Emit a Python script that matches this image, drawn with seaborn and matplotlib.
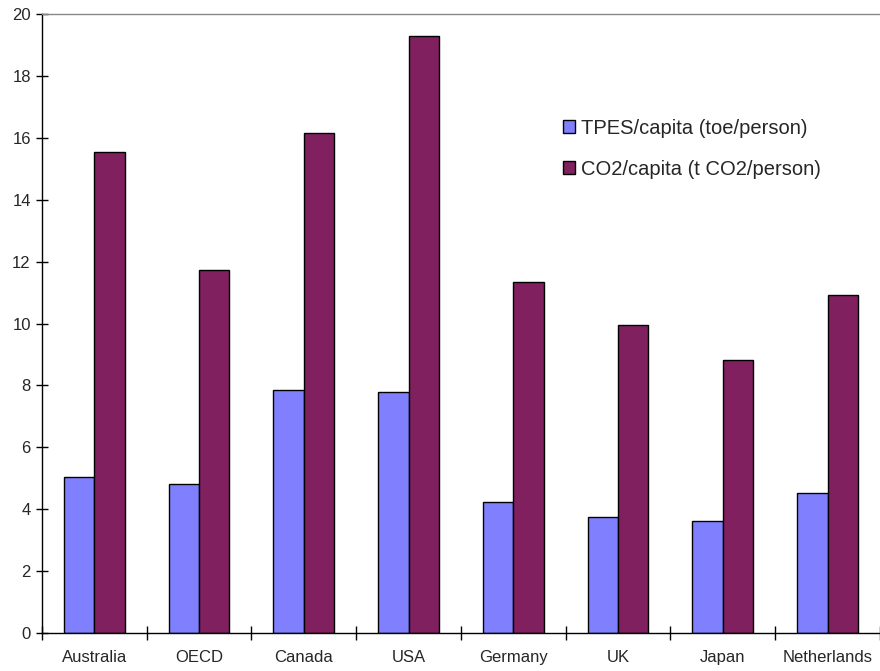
import numpy as np
import pandas as pd
import matplotlib.pyplot as plt
import seaborn as sns

# Data
countries = ["Australia", "OECD", "Canada", "USA", "Germany", "UK", "Japan", "Netherlands"]
tpes = [5.04, 4.81, 7.86, 7.78, 4.22, 3.74, 3.62, 4.52]
co2 = [15.55, 11.73, 16.16, 19.29, 11.34, 9.96, 8.83, 10.92]
series = ["TPES/capita (toe/person)", "CO2/capita (t CO2/person)"]
colors = ["#8080FF", "#80205F"]

df = pd.DataFrame({
    "country": countries * 2,
    "value": tpes + co2,
    "series": [series[0]] * len(countries) + [series[1]] * len(countries),
})

sns.set_style("white")
plt.rcParams["font.family"] = ["Liberation Sans", "DejaVu Sans"]

fig = plt.figure(figsize=(8.8, 6.71), dpi=100)
ax = fig.add_axes([0.0477, 0.0566, 0.9523, 0.9225])

sns.barplot(data=df, x="country", y="value", hue="series", palette=colors,
            order=countries, hue_order=series, width=0.58, gap=0,
            edgecolor="black", linewidth=1, saturation=1, ax=ax)

ax.set_xlim(-0.5, len(countries) - 0.5)
ax.set_ylim(0, 20)
ax.set_yticks(np.arange(0, 21, 2))
ax.set_xlabel("")
ax.set_ylabel("")

# ticks at category boundaries on x
ax.set_xticks(np.arange(-0.5, len(countries), 1), minor=True)
ax.tick_params(axis="x", which="major", length=0, labelsize=12, pad=12)
ax.tick_params(axis="x", which="minor", direction="inout", length=10, width=1, color="black", bottom=True)
ax.tick_params(axis="y", direction="inout", length=8, width=1, color="black", labelsize=12, left=True, pad=4)

for side in ["left", "bottom"]:
    ax.spines[side].set_color("black")
    ax.spines[side].set_linewidth(1)
ax.spines["top"].set_color("#888888")
ax.spines["top"].set_linewidth(1)
ax.spines["right"].set_visible(False)

ax.legend(loc="upper left", bbox_to_anchor=(0.6, 0.86), frameon=False, fontsize=14.5,
          handlelength=0.6, handleheight=0.6, handletextpad=0.3, labelspacing=1.1)

fig.savefig("out.png", dpi=100)
